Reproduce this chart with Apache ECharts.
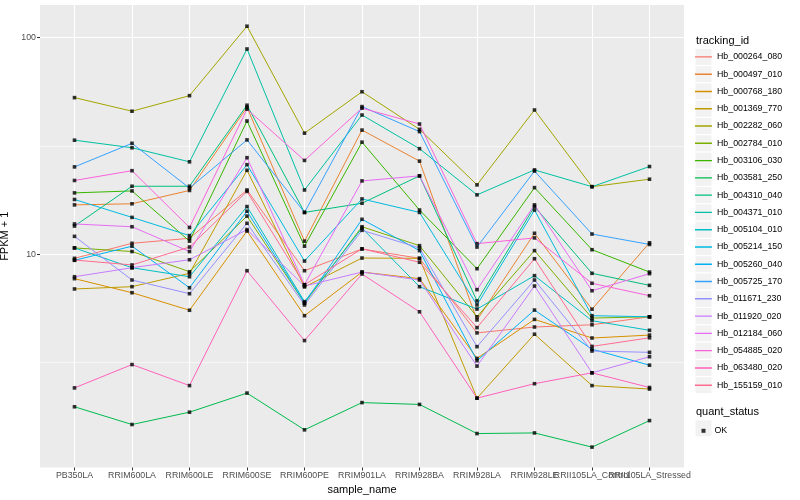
<!DOCTYPE html>
<html>
<head>
<meta charset="utf-8">
<script src="https://cdn.jsdelivr.net/npm/echarts@6/dist/echarts.min.js"></script>
<style>html,body{margin:0;padding:0;background:#fff;}#chart{width:800px;height:500px;}</style>
</head>
<body>
<div id="chart"></div>
<script>
// ---- data ----
const categories = ["PB350LA","RRIM600LA","RRIM600LE","RRIM600SE","RRIM600PE","RRIM901LA","RRIM928BA","RRIM928LA","RRIM928LE","RRII105LA_Control","RRII105LA_Stressed"];
const trackingIds = ["Hb_000264_080","Hb_000497_010","Hb_000768_180","Hb_001369_770","Hb_002282_060","Hb_002784_010","Hb_003106_030","Hb_003581_250","Hb_004310_040","Hb_004371_010","Hb_005104_010","Hb_005214_150","Hb_005260_040","Hb_005725_170","Hb_011671_230","Hb_011920_020","Hb_012184_060","Hb_054885_020","Hb_063480_020","Hb_155159_010"];
const yTickValues = [10, 100];
const yMinorValues = [3.1623, 31.623];
const quantStatus = ["OK"];

const Hb_000264_080 = [9.58, 11.24, 11.85, 19.8, 8.40, 10.58, 9.58, 4.34, 4.62, 4.73, 5.15];
const Hb_000497_010 = [16.9, 17.1, 19.7, 47.6, 11.5, 37.4, 26.9, 4.98, 12.5, 5.58, 11.3];
const Hb_000768_180 = [7.72, 6.65, 5.52, 12.8, 5.21, 8.28, 7.72, 3.31, 5.01, 4.11, 4.24];
const Hb_001369_770 = [6.92, 7.09, 8.17, 24.4, 7.07, 9.61, 9.58, 2.17, 4.28, 2.48, 2.39];
const Hb_002282_060 = [52.8, 45.7, 53.9, 112.7, 36.2, 56.2, 37.7, 20.9, 46.3, 20.5, 22.2];
const Hb_002784_010 = [10.7, 10.3, 8.31, 15.0, 5.96, 13.4, 10.96, 5.15, 10.4, 5.08, 5.15];
const Hb_003106_030 = [19.2, 19.6, 11.5, 41.2, 10.9, 32.9, 16.0, 8.58, 20.3, 10.5, 8.28];
const Hb_003581_250 = [1.98, 1.64, 1.87, 2.29, 1.55, 2.07, 2.03, 1.49, 1.50, 1.29, 1.71];
const Hb_004310_040 = [13.5, 20.6, 20.6, 48.7, 15.6, 17.2, 23.0, 6.09, 16.6, 8.17, 7.19];
const Hb_004371_010 = [33.6, 31.0, 26.7, 88.5, 19.8, 43.9, 30.7, 18.8, 24.5, 20.5, 25.4];
const Hb_005104_010 = [10.7, 8.67, 7.88, 16.6, 6.05, 13.2, 7.09, 5.59, 7.97, 4.94, 4.46];
const Hb_005214_150 = [17.9, 14.8, 12.2, 25.9, 9.31, 18.0, 15.6, 5.84, 16.0, 5.21, 5.15];
const Hb_005260_040 = [9.38, 10.9, 7.01, 15.8, 5.96, 14.5, 10.4, 3.23, 5.53, 3.65, 3.08];
const Hb_005725_170 = [25.3, 32.5, 20.2, 33.7, 15.6, 48.0, 36.8, 10.8, 24.2, 12.4, 11.1];
const Hb_011671_230 = [12.1, 7.61, 6.58, 13.9, 5.84, 12.9, 10.7, 3.75, 7.61, 3.58, 3.53];
const Hb_011920_020 = [7.88, 8.67, 9.44, 13.0, 7.14, 8.28, 7.61, 3.05, 7.14, 2.84, 3.37];
const Hb_012184_060 = [13.8, 13.4, 10.3, 27.9, 7.24, 21.8, 23.0, 6.87, 16.9, 6.79, 8.14];
const Hb_054885_020 = [21.9, 24.3, 13.3, 46.7, 27.1, 47.2, 39.9, 11.2, 11.9, 7.35, 6.44];
const Hb_063480_020 = [2.42, 3.10, 2.48, 8.40, 4.00, 8.11, 5.43, 2.17, 2.53, 2.84, 2.43];
const Hb_155159_010 = [9.41, 8.93, 10.8, 19.5, 7.24, 10.6, 9.19, 4.59, 9.54, 3.76, 4.12];

const seriesValues = [Hb_000264_080, Hb_000497_010, Hb_000768_180, Hb_001369_770, Hb_002282_060,
  Hb_002784_010, Hb_003106_030, Hb_003581_250, Hb_004310_040, Hb_004371_010, Hb_005104_010,
  Hb_005214_150, Hb_005260_040, Hb_005725_170, Hb_011671_230, Hb_011920_020, Hb_012184_060,
  Hb_054885_020, Hb_063480_020, Hb_155159_010];

// ---- styles ----
const palette = ["#F8766D","#EA8331","#D89000","#C09B00","#A3A500","#7CAE00","#39B600","#00BB4E","#00BF7D","#00C1A3","#00BFC4","#00BAE0","#00B0F6","#35A2FF","#9590FF","#C77CFF","#E76BF3","#FA62DB","#FF62BC","#FF6C91"];
const FONT = '"Liberation Sans", Arial, Helvetica, sans-serif';
const LINE_ICON = 'path://M0,0L0,0.01M0,7.8L17,7.8L17,9.2L0,9.2ZM17,17L17,16.99';
const catIdx = categories.map((c, i) => i);
// labels split over two axes so that ECharts does not drop the ones that touch
const labelIdxA = catIdx.filter(i => i % 2 === 1);
const labelIdxB = catIdx.filter(i => i % 2 === 0);

const lineSeries = trackingIds.map((id, k) => ({
  name: id,
  type: 'line',
  color: palette[k],
  showSymbol: false,
  symbol: 'none',
  lineStyle: { width: 1, color: palette[k] },
  z: 2,
  data: seriesValues[k].map((v, i) => [i, v])
}));

const pointData = [];
seriesValues.forEach(arr => arr.forEach((v, i) => pointData.push([i, v])));

const keyRects = trackingIds.map((id, i) => ({
  type: 'rect', left: 695.5, top: 48.9 + i * 17.28, z: 0,
  shape: { width: 16, height: 16 }, style: { fill: '#F2F2F2' }
}));
keyRects.push({ type: 'rect', left: 695.5, top: 420.3, z: 0, shape: { width: 16, height: 16 }, style: { fill: '#F2F2F2' } });

const xLabelStyle = { fontSize: 8.8, color: '#4D4D4D', margin: 3.5, fontFamily: FONT, hideOverlap: false, showMinLabel: true, showMaxLabel: true,
  formatter: v => categories[Math.round(v)] || '' };

const chart = echarts.init(document.getElementById('chart'), null, { renderer: 'canvas' });
chart.setOption({
  animation: false,
  backgroundColor: '#ffffff',
  textStyle: { fontFamily: FONT },
  title: [
    { text: 'tracking_id', left: 696, top: 35, padding: 0, textStyle: { fontSize: 11, fontWeight: 'normal', color: '#000', fontFamily: FONT } },
    { text: 'quant_status', left: 696, top: 406, padding: 0, textStyle: { fontSize: 11, fontWeight: 'normal', color: '#000', fontFamily: FONT } }
  ],
  graphic: keyRects,
  legend: [
    {
      data: trackingIds.map(n => ({ name: n, icon: LINE_ICON })),
      orient: 'vertical', left: 695, top: 48.4, padding: 0,
      itemWidth: 17, itemHeight: 17, itemGap: 0.28, selectedMode: false,
      textStyle: { fontSize: 8.8, color: '#000', fontFamily: FONT }
    },
    {
      data: quantStatus.map(n => ({ name: n, icon: 'rect' })),
      orient: 'vertical', left: 701.5, top: 426.3, padding: 0,
      itemWidth: 4, itemHeight: 4, selectedMode: false,
      textStyle: { fontSize: 8.8, color: '#000', fontFamily: FONT, padding: [0, 0, 0, 4] }
    }
  ],
  grid: { left: 40, right: 116, top: 5, bottom: 32.5, show: true, backgroundColor: '#EBEBEB', borderWidth: 0, containLabel: false, outerBoundsMode: 'none' },
  xAxis: [
    {
      type: 'value', min: -0.6, max: 10.6, position: 'bottom',
      name: 'sample_name', nameLocation: 'middle', nameGap: 17,
      nameTextStyle: { fontSize: 11, color: '#000', fontFamily: FONT },
      axisLine: { show: false, onZero: false },
      axisTick: { show: true, length: 3, lineStyle: { color: '#333333', width: 1 }, customValues: catIdx },
      axisLabel: Object.assign({ customValues: labelIdxA }, xLabelStyle),
      splitLine: { show: true, lineStyle: { color: '#ffffff', width: 1.1 } }
    },
    {
      type: 'value', min: -0.6, max: 10.6, position: 'bottom', offset: 0,
      axisLine: { show: false, onZero: false },
      axisTick: { show: false, customValues: labelIdxB },
      axisLabel: Object.assign({ customValues: labelIdxB }, xLabelStyle),
      splitLine: { show: false }
    }
  ],
  yAxis: [
    {
      type: 'log', logBase: 10, min: 1.039, max: 141.2,
      name: 'FPKM + 1', nameLocation: 'middle', nameGap: 13,
      nameTextStyle: { fontSize: 11, color: '#000', fontFamily: FONT },
      axisLine: { show: false, onZero: false },
      axisTick: { show: true, length: 3, lineStyle: { color: '#333333', width: 1 }, customValues: yTickValues },
      axisLabel: { customValues: yTickValues, hideOverlap: false, fontSize: 8.8, color: '#4D4D4D', margin: 4, fontFamily: FONT },
      splitLine: { show: true, lineStyle: { color: '#ffffff', width: 1.1 } }
    },
    {
      type: 'log', logBase: 10, min: 1.039, max: 141.2, position: 'left',
      axisLine: { show: false, onZero: false },
      axisTick: { show: false, customValues: yMinorValues },
      axisLabel: { show: false, customValues: yMinorValues },
      splitLine: { show: true, lineStyle: { color: '#ffffff', width: 0.55 } }
    }
  ],
  series: lineSeries.concat([{
    name: 'OK', type: 'scatter', symbol: 'rect', symbolSize: 3.6, color: '#000000',
    itemStyle: { color: '#000000' }, z: 3, data: pointData
  }])
});
</script>
</body>
</html>
